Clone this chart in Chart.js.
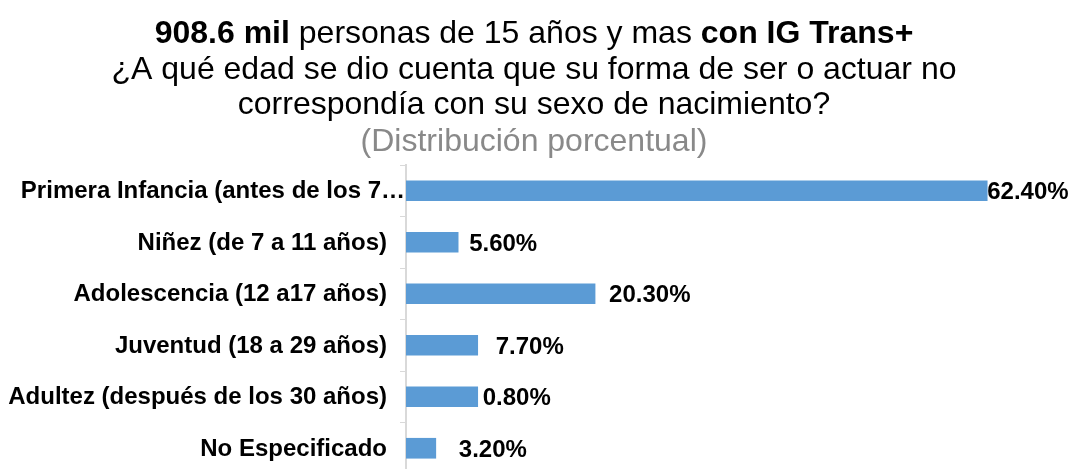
<!DOCTYPE html>
<html>
<head>
<meta charset="utf-8">
<script src="https://cdn.jsdelivr.net/npm/chart.js@4"></script>
<style>
  html, body { margin: 0; padding: 0; background: #fff; overflow: hidden; }
  #wrap { width: 1068px; height: 480px; }
</style>
</head>
<body>
<div id="wrap"><canvas id="edad-trans"></canvas></div>
<script>
const ctxEdad = document.getElementById('edad-trans').getContext('2d')

// Data
const categories = [
  'Primera Infancia (antes de los 7…',
  'Niñez (de 7 a 11 años)',
  'Adolescencia (12 a17 años)',
  'Juventud (18 a 29 años)',
  'Adultez (después de los 30 años)',
  'No Especificado',
]
// bar lengths as drawn (the Adultez bar is drawn as long as Juventud)
const barValues = [62.4, 5.6, 20.3, 7.7, 7.7, 3.2]
const valueLabels = ['62.40%', '5.60%', '20.30%', '7.70%', '0.80%', '3.20%']
const titleLine1 = [
  ['908.6 mil', true],
  [' personas de 15 años y mas ', false],
  ['con IG Trans+', true],
]
const titleLines = [
  '¿A qué edad se dio cuenta que su forma de ser o actuar no',
  'correspondía con su sexo de nacimiento?',
]
const subtitleText = '(Distribución porcentual)'

// label placement tweaks (Excel labels were dragged by hand)
const labelGap = [0, 11, 14, 18, 5, 23]
const catGap = [1, 19, 19, 19, 19, 19]

const FONT = '"Liberation Sans", Arial, sans-serif'
const BAR_COLOR = '#5B9BD5'

const titlePlugin = {
  id: 'titleBlock',
  afterDraw: chart => {
    const c = chart.ctx
    const cx = chart.width / 2
    c.save()
    c.textBaseline = 'alphabetic'
    c.fillStyle = '#000'
    // first line, mixed bold / normal
    let total = 0
    titleLine1.forEach(([t, b]) => {
      c.font = (b ? 'bold ' : '') + '32px ' + FONT
      total += c.measureText(t).width
    })
    let x = cx - total / 2
    c.textAlign = 'left'
    titleLine1.forEach(([t, b]) => {
      c.font = (b ? 'bold ' : '') + '32px ' + FONT
      c.fillText(t, x, 43)
      x += c.measureText(t).width
    })
    c.textAlign = 'center'
    c.font = '32px ' + FONT
    c.fillText(titleLines[0], cx, 79)
    c.fillText(titleLines[1], cx, 114)
    c.fillStyle = '#898989'
    c.fillText(subtitleText, cx, 151)
    c.restore()
  },
}

const labelsPlugin = {
  id: 'barLabels',
  afterDatasetsDraw: chart => {
    const c = chart.ctx
    const meta = chart.getDatasetMeta(0)
    const yScale = chart.scales.y
    c.save()
    c.font = 'bold 24px ' + FONT
    c.fillStyle = '#000'
    c.textBaseline = 'middle'
    meta.data.forEach((bar, i) => {
      c.textAlign = 'left'
      c.fillText(valueLabels[i], bar.x + labelGap[i], bar.y + 2)
      c.textAlign = 'right'
      c.fillText(categories[i], yScale.right - catGap[i], yScale.getPixelForTick(i) + 1)
    })
    c.restore()
  },
}

const dataEdad = {
  labels: categories,
  datasets: [
    {
      data: barValues,
      backgroundColor: BAR_COLOR,
      borderWidth: 0,
      barThickness: 20,
    },
  ],
}

const configEdad = {
  type: 'bar',
  data: dataEdad,
  plugins: [titlePlugin, labelsPlugin],
  options: {
    indexAxis: 'y',
    responsive: true,
    maintainAspectRatio: false,
    animation: false,
    layout: {
      padding: { top: 165, right: 10, bottom: 6, left: 0 },
    },
    plugins: {
      legend: { display: false },
      title: { display: false },
      tooltip: { enabled: false },
    },
    scales: {
      x: {
        display: false,
        min: 0,
        max: 70,
      },
      y: {
        afterFit: scale => {
          scale.width = 406
        },
        ticks: { display: false },
        grid: {
          offset: true,
          drawOnChartArea: false,
          drawTicks: true,
          tickLength: 6,
          color: '#d9d9d9',
          lineWidth: 1,
        },
        border: {
          display: true,
          color: '#d9d9d9',
          width: 2,
        },
      },
    },
  },
}
const EdadChart = new Chart(ctxEdad, configEdad)
</script>
</body>
</html>
